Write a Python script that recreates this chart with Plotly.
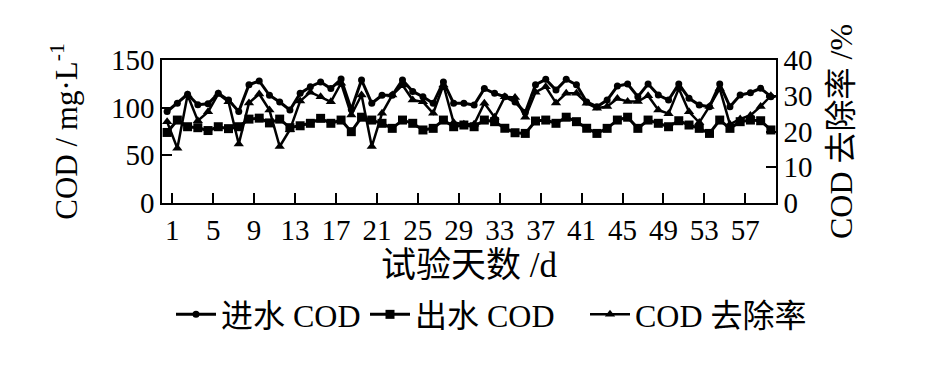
import plotly.graph_objects as go

days = list(range(1, 61))
influent = [96, 104.6, 114, 103, 104, 115, 108, 96, 124, 128,
            113, 106, 97.6, 115, 122, 127, 120, 130, 98, 129,
            104.6, 113, 113, 129, 117, 111.5, 104.6, 127, 104.6, 104.6,
            102.8, 120, 115, 111.5, 106, 95, 124, 129.7, 118.5, 129.7,
            124, 106, 101, 108, 122.7, 124.8, 111.5, 124.8, 113.3, 108,
            124.8, 109.8, 102.8, 101, 124.8, 101, 113.3, 115.7, 120.3, 111.5]
effluent = [74, 87, 80, 79, 76, 80, 78, 80, 88, 89,
            84, 88, 79, 81, 83.6, 88.8, 83.6, 87, 74.8, 90,
            87, 83.6, 78.3, 87, 83.6, 76.6, 78.3, 87, 80, 81.8,
            80, 87, 85.3, 78.4, 73.7, 73, 86, 87, 83.6, 90,
            85.3, 78.4, 73, 78.3, 87, 90, 78.3, 87, 83.6, 80,
            86.3, 81.8, 78.3, 73, 87, 78.3, 85.3, 87, 86.3, 76.6]
removal = [22.7, 15.3, 30.2, 23, 25.5, 30.5, 28.3, 16.5, 28, 30.5,
           26, 15.8, 20.5, 28.5, 31, 29.7, 28.3, 33.5, 24.6, 30.2,
           15.8, 25.1, 30.2, 33, 28.8, 28.3, 25.1, 33, 22.5, 22,
           22, 27.9, 24, 29.7, 29.5, 24, 31, 32.5, 28, 30.7,
           30.7, 27.9, 26.5, 27, 29.2, 28.4, 28.4, 30, 26, 25,
           32, 25.5, 22.5, 27, 32, 22, 23.5, 24.5, 27, 30]

tick_labels = ["1", "5", "9", "13", "17", "21", "25", "29", "33", "37", "41", "45", "49", "53", "57"]
tick_pos = [int(t) + 0.5 for t in tick_labels]

FONT = "Liberation Serif, 'Times New Roman', 'Noto Sans CJK SC', serif"
LEG_FONT = dict(size=32, family=FONT, color="black")

fig = go.Figure()
fig.add_trace(go.Scatter(x=days, y=influent, name="进水 COD", mode="lines+markers",
                         legend="legend",
                         line=dict(color="black", width=3),
                         marker=dict(symbol="circle", size=7, color="black")))
fig.add_trace(go.Scatter(x=days, y=effluent, name="出水 COD", mode="lines+markers",
                         legend="legend2",
                         line=dict(color="black", width=3),
                         marker=dict(symbol="square", size=9, color="black")))
fig.add_trace(go.Scatter(x=days, y=removal, name="COD 去除率", mode="lines+markers",
                         yaxis="y2", legend="legend3",
                         line=dict(color="black", width=2.5),
                         marker=dict(symbol="triangle-up", size=9, color="black")))

# page body has an 8px margin: compensate so the plot area lands where the reference has it
L, T, PW, PH = 154, 52, 614, 143
W, H = 945, 378
fig.update_layout(
    width=W, height=H,
    margin=dict(l=L, r=W - L - PW, t=T, b=H - T - PH),
    paper_bgcolor="white", plot_bgcolor="white",
    font=dict(family=FONT, size=29, color="black"),
    showlegend=True,
    legend=dict(x=(171 - 8 - L) / PW, xanchor="left", y=-0.78, yanchor="middle",
                font=LEG_FONT, itemwidth=40, bgcolor="rgba(0,0,0,0)"),
    legend2=dict(x=(365 - 8 - L) / PW, xanchor="left", y=-0.78, yanchor="middle",
                 font=LEG_FONT, itemwidth=40, bgcolor="rgba(0,0,0,0)"),
    legend3=dict(x=(585 - 8 - L) / PW, xanchor="left", y=-0.78, yanchor="middle",
                 font=LEG_FONT, itemwidth=40, bgcolor="rgba(0,0,0,0)"),
    xaxis=dict(range=[0.5, 60.5], tickmode="array", tickvals=tick_pos, ticktext=tick_labels,
               ticks="inside", ticklen=10, tickwidth=1.5, tickcolor="black",
               showline=True, linecolor="black", linewidth=1.5, mirror=True,
               showgrid=False, zeroline=False,
               title=dict(text="试验天数 /d", standoff=4, font=dict(size=35))),
    yaxis=dict(range=[0, 150], tickvals=[0, 50, 100, 150],
               ticks="inside", ticklen=10, tickwidth=1.5, tickcolor="black",
               showline=True, linecolor="black", linewidth=1.5,
               showgrid=False, zeroline=False,
               title=dict(text="COD / mg·L<sup>-1</sup>", standoff=24,
                          font=dict(size=31))),
    yaxis2=dict(range=[0, 40], tickvals=[0, 10, 20, 30, 40], overlaying="y", side="right",
                ticks="inside", ticklen=10, tickwidth=1.5, tickcolor="black",
                showline=True, linecolor="black", linewidth=1.5,
                showgrid=False, zeroline=False,
                title=dict(text="COD 去除率 /%", standoff=18, font=dict(size=32))),
)

fig.write_html("out.html")
